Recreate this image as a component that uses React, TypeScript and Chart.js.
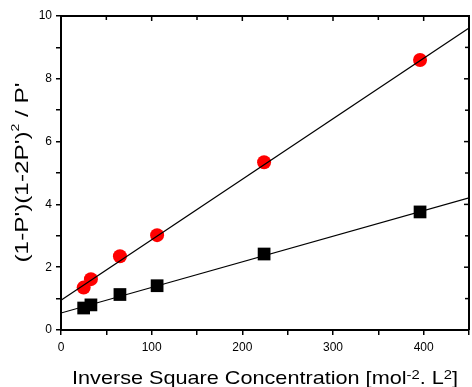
import React, { useEffect, useRef } from "react";
import { Chart, registerables } from "chart.js";

Chart.register(...registerables);

const concX = [25, 33, 65, 106, 224, 396];
const redY = [1.35, 1.62, 2.35, 3.02, 5.34, 8.6];
const blackY = [0.7, 0.8, 1.13, 1.41, 2.42, 3.76];
const fitX = [0, 450];
const redFitY = [0.95, 9.62];
const blackFitY = [0.54, 4.21];
const xMin = 0, xMax = 450, xStep = 50;
const yMin = 0, yMax = 10, yStep = 1;
// title parts: [text, isSuperscript]
const xTitleParts: [string, boolean][] = [["Inverse Square Concentration [mol", false], ["-2", true], [". L", false], ["2", true], ["]", false]];
const yTitleParts: [string, boolean][] = [["(1-P')(1-2P')", false], ["2", true], [" / P'", false]];

const FONT = "'Liberation Sans', Arial, sans-serif";

function drawParts(
  ctx: CanvasRenderingContext2D,
  parts: [string, boolean][],
  size: number,
  supSize: number,
  rise: number,
  targetLen: number
) {
  const widths = parts.map(([t, sup]) => {
    ctx.font = `${sup ? supSize : size}px ${FONT}`;
    return ctx.measureText(t).width;
  });
  const total = widths.reduce((a, b) => a + b, 0);
  ctx.scale(targetLen / total, 1);
  let x = -total / 2;
  parts.forEach(([t, sup], i) => {
    ctx.font = `${sup ? supSize : size}px ${FONT}`;
    ctx.fillText(t, x, sup ? -rise : 0);
    x += widths[i];
  });
}

const framePlugin = {
  id: "frame",
  afterDraw(chart: any) {
    const { ctx, chartArea: a, scales } = chart;
    ctx.save();
    ctx.strokeStyle = "#000";
    ctx.lineWidth = 2;
    ctx.beginPath();
    ctx.moveTo(a.left, a.top);
    ctx.lineTo(a.right, a.top);
    ctx.lineTo(a.right, a.bottom);
    ctx.stroke();
    ctx.lineWidth = 1.5;
    scales.x.ticks.forEach((t: any) => {
      const px = scales.x.getPixelForValue(t.value);
      const len = t.value % 100 === 0 ? 5 : 4;
      ctx.beginPath();
      ctx.moveTo(px, a.top);
      ctx.lineTo(px, a.top + len);
      ctx.stroke();
    });
    scales.y.ticks.forEach((t: any) => {
      const py = scales.y.getPixelForValue(t.value);
      const len = t.value % 2 === 0 ? 5 : 4;
      ctx.beginPath();
      ctx.moveTo(a.right, py);
      ctx.lineTo(a.right - len, py);
      ctx.stroke();
    });
    // axis titles
    ctx.fillStyle = "#000";
    ctx.textBaseline = "alphabetic";
    ctx.textAlign = "left";
    ctx.save();
    ctx.translate((a.left + a.right) / 2, 384);
    drawParts(ctx, xTitleParts, 19, 13, 5, 386);
    ctx.restore();
    ctx.save();
    ctx.translate(27.5, 172.5);
    ctx.rotate(-Math.PI / 2);
    drawParts(ctx, yTitleParts, 17.5, 10, 9, 180);
    ctx.restore();
    ctx.restore();
  },
};

export default function App() {
  const ref = useRef<HTMLCanvasElement>(null);
  useEffect(() => {
    const pts = (xs: number[], ys: number[]) => xs.map((x, i) => ({ x, y: ys[i] }));
    const chart = new Chart(ref.current!, {
      type: "scatter",
      data: {
        datasets: [
          { type: "line", data: pts(fitX, redFitY), borderColor: "#000", borderWidth: 1.2, pointRadius: 0, order: 0 },
          { type: "line", data: pts(fitX, blackFitY), borderColor: "#000", borderWidth: 1.2, pointRadius: 0, order: 0 },
          { data: pts(concX, redY), backgroundColor: "#ff0000", borderWidth: 0, pointRadius: 7, pointStyle: "circle", order: 1 },
          { data: pts(concX, blackY), backgroundColor: "#000", borderWidth: 0, pointRadius: 9, pointStyle: "rect", order: 1 },
        ],
      } as any,
      options: {
        animation: false,
        responsive: false,
        layout: { autoPadding: false, padding: { top: 16, right: 3, left: 0, bottom: 0 } },
        plugins: { legend: { display: false }, tooltip: { enabled: false } },
        scales: {
          x: {
            type: "linear",
            min: xMin,
            max: xMax,
            ticks: {
              stepSize: xStep,
              autoSkip: false,
              maxRotation: 0,
              color: "#000",
              font: { family: FONT, size: 12 },
              padding: 5,
              callback: (v: any) => (v % 100 === 0 && v < 450 ? String(v) : ""),
            },
            grid: { drawOnChartArea: false, drawTicks: true, tickLength: 5, color: "#000", lineWidth: 1.5 },
            border: { display: true, color: "#000", width: 2 },
            title: { display: false },
            afterFit: (s: any) => { s.height = 57; s.paddingLeft = 0; s.paddingRight = 0; },
          },
          y: {
            type: "linear",
            min: yMin,
            max: yMax,
            ticks: {
              stepSize: yStep,
              autoSkip: false,
              color: "#000",
              font: { family: FONT, size: 12 },
              padding: 4,
              callback: (v: any) => (v % 2 === 0 ? String(v) : ""),
            },
            grid: { drawOnChartArea: false, drawTicks: true, tickLength: 5, color: "#000", lineWidth: 1.5 },
            border: { display: true, color: "#000", width: 2 },
            title: { display: false },
            afterFit: (s: any) => { s.width = 61; s.paddingTop = 0; s.paddingBottom = 0; },
          },
        },
      } as any,
      plugins: [framePlugin],
    });
    return () => chart.destroy();
  }, []);
  return (
    <div style={{ position: "absolute", left: 0, top: 0, width: 472, height: 387, background: "#fff" }}>
      <canvas ref={ref} width={472} height={387} style={{ display: "block", width: 472, height: 387 }} />
    </div>
  );
}
